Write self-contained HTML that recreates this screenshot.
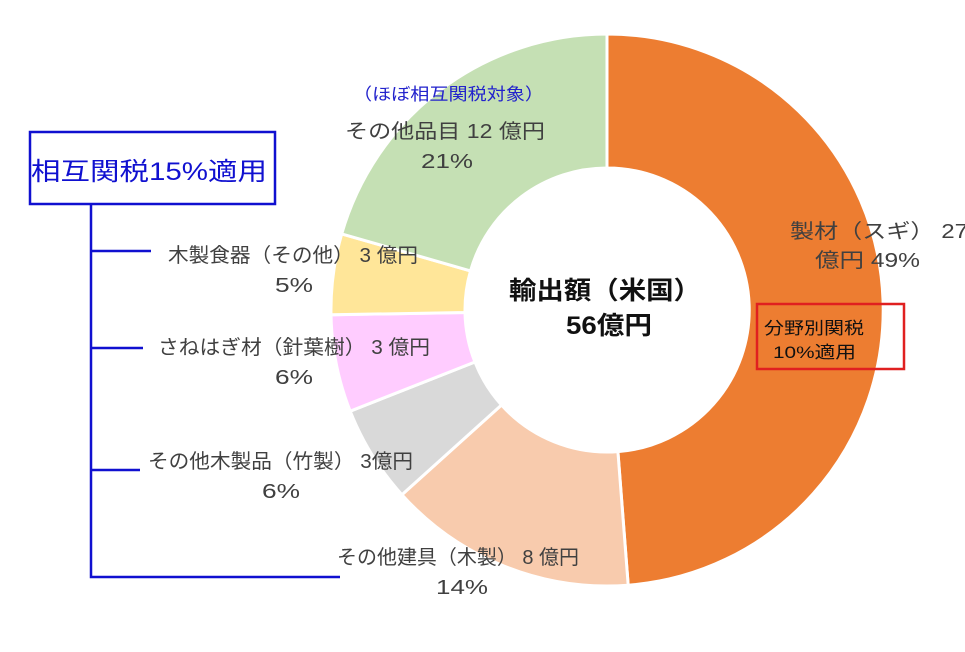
<!DOCTYPE html>
<html><head><meta charset="utf-8"><style>
body{margin:0;background:#fff;}
svg text{font-family:"Liberation Sans","Noto Sans CJK JP",sans-serif;}
</style></head><body>
<svg width="965" height="647" viewBox="0 0 965 647" xmlns="http://www.w3.org/2000/svg">
<g stroke="#fff" stroke-width="3">
<path id="s1" fill="#ED7D31"/>
<path id="s2" fill="#F8CBAD"/>
<path id="s3" fill="#D9D9D9"/>
<path id="s4" fill="#FFCCFF"/>
<path id="s5" fill="#FFE699"/>
<path id="s6" fill="#C5E0B4"/>
</g>
<g fill="#404040" font-size="20" lengthAdjust="spacingAndGlyphs">
<text x="345" y="138" textLength="200" lengthAdjust="spacingAndGlyphs">その他品目 12 億円</text>
<text x="421" y="168" textLength="52" lengthAdjust="spacingAndGlyphs">21%</text>
<text x="790" y="238" textLength="178" lengthAdjust="spacingAndGlyphs">製材（スギ） 27</text>
<text x="815" y="267" textLength="105" lengthAdjust="spacingAndGlyphs">億円 49%</text>
<text x="168" y="262" textLength="250" lengthAdjust="spacingAndGlyphs">木製食器（その他） 3 億円</text>
<text x="275" y="292" textLength="38" lengthAdjust="spacingAndGlyphs">5%</text>
<text x="158" y="354" textLength="272" lengthAdjust="spacingAndGlyphs">さねはぎ材（針葉樹） 3 億円</text>
<text x="275" y="384" textLength="38" lengthAdjust="spacingAndGlyphs">6%</text>
<text x="148" y="468" textLength="265" lengthAdjust="spacingAndGlyphs">その他木製品（竹製） 3億円</text>
<text x="262" y="498" textLength="38" lengthAdjust="spacingAndGlyphs">6%</text>
<text x="337" y="564" textLength="242" lengthAdjust="spacingAndGlyphs">その他建具（木製） 8 億円</text>
<text x="436" y="594" textLength="52" lengthAdjust="spacingAndGlyphs">14%</text>
</g>
<text x="353" y="100" font-size="17" fill="#2222cc" textLength="191" lengthAdjust="spacingAndGlyphs">（ほぼ相互関税対象）</text>
<g font-size="25" font-weight="bold" fill="#111">
<text x="509" y="299" textLength="192" lengthAdjust="spacingAndGlyphs">輸出額（米国）</text>
<text x="566" y="334" textLength="86" lengthAdjust="spacingAndGlyphs">56億円</text>
</g>
<rect x="757" y="304" width="147" height="65" fill="none" stroke="#e02020" stroke-width="2.5"/>
<g font-size="17" fill="#111">
<text x="764" y="334" textLength="100" lengthAdjust="spacingAndGlyphs">分野別関税</text>
<text x="773" y="358" textLength="83" lengthAdjust="spacingAndGlyphs">10%適用</text>
</g>
<rect x="30" y="132" width="245" height="72" fill="none" stroke="#1010d0" stroke-width="2.5"/>
<text x="31" y="180" font-size="25" fill="#1010d0" textLength="236" lengthAdjust="spacingAndGlyphs">相互関税15%適用</text>
<g stroke="#1010d0" stroke-width="2.5" fill="none">
<path d="M91 204V577H340M91 251H151M91 348H143M91 470H140"/>
</g>
<script>
var cx=607,cy=310,R=276,r=142;
var b=[0,175.6,228,248.5,269,286,360];
function P(rad,a){a=a*Math.PI/180;return (cx+rad*Math.sin(a)).toFixed(1)+' '+(cy-rad*Math.cos(a)).toFixed(1);}
for(var i=0;i<6;i++){var a0=b[i],a1=b[i+1],l=(a1-a0)>180?1:0;
document.getElementById('s'+(i+1)).setAttribute('d','M'+P(R,a0)+'A'+R+' '+R+' 0 '+l+' 1 '+P(R,a1)+'L'+P(r,a1)+'A'+r+' '+r+' 0 '+l+' 0 '+P(r,a0)+'Z');}
</script>
</svg>
</body></html>
